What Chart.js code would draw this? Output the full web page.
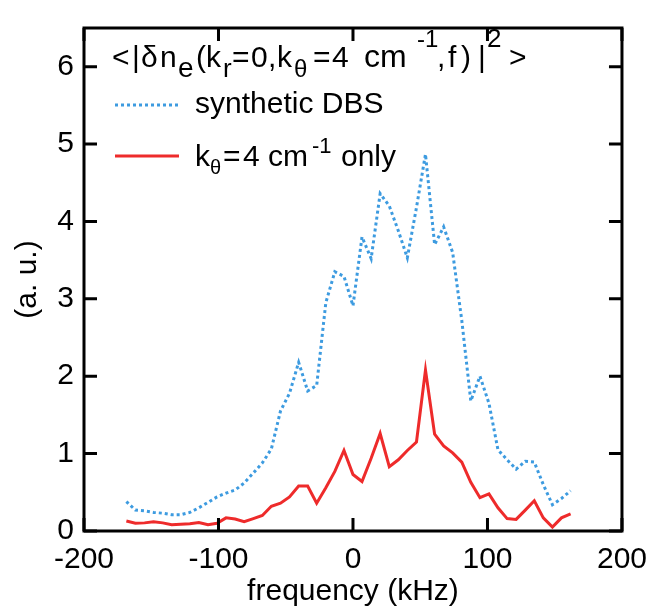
<!DOCTYPE html>
<html>
<head>
<meta charset="utf-8">
<script src="https://cdn.jsdelivr.net/npm/chart.js@4.4.1/dist/chart.umd.min.js"></script>
<style>
  html, body { margin: 0; padding: 0; background: #fff; }
  #wrap { width: 658px; height: 611px; }
</style>
</head>
<body>
<div id="wrap"><canvas id="spec" width="658" height="611"></canvas></div>
<script>
// frequency grid (kHz)
var freq = [-168.5, -161.8, -155.0, -148.3, -141.5, -134.8, -128.1, -121.3, -114.6, -107.8,
  -101.1, -94.4, -87.6, -80.9, -74.1, -67.4, -60.7, -53.9, -47.2, -40.4,
  -33.7, -27.0, -20.2, -13.5, -6.7, 0, 6.7, 13.5, 20.2, 27.0,
  33.7, 40.4, 47.2, 53.9, 60.7, 67.4, 74.1, 80.9, 87.6, 94.4,
  101.1, 107.8, 114.6, 121.3, 128.1, 134.8, 141.5, 148.3, 155.0, 161.8];

// synthetic DBS spectrum (a. u.)
var synthDBS = [0.38, 0.27, 0.26, 0.24, 0.23, 0.21, 0.21, 0.24, 0.30, 0.37,
  0.44, 0.49, 0.53, 0.62, 0.75, 0.88, 1.06, 1.55, 1.78, 2.18,
  1.81, 1.88, 2.95, 3.35, 3.29, 2.91, 3.80, 3.52, 4.36, 4.20,
  3.88, 3.53, 4.18, 4.87, 3.70, 3.93, 3.60, 2.72, 1.68, 2.00,
  1.65, 1.05, 0.92, 0.80, 0.90, 0.89, 0.60, 0.34, 0.42, 0.52];

// k_theta = 4 cm^-1 only
var kthetaOnly = [0.13, 0.10, 0.105, 0.12, 0.105, 0.08, 0.087, 0.095, 0.11, 0.08,
  0.10, 0.17, 0.155, 0.12, 0.16, 0.20, 0.32, 0.36, 0.44, 0.58,
  0.58, 0.36, 0.56, 0.77, 1.04, 0.73, 0.64, 0.94, 1.26, 0.83,
  0.92, 1.04, 1.15, 2.08, 1.25, 1.10, 1.01, 0.89, 0.63, 0.43,
  0.48, 0.30, 0.16, 0.15, 0.27, 0.39, 0.17, 0.05, 0.17, 0.22];

var xTicks = [-200, -100, 0, 100, 200];
var yTicks = [0, 1, 2, 3, 4, 5, 6];

var BLUE = '#3d9be0';
var RED = '#ee2b2b';
var FONT = '"Liberation Sans", Arial, sans-serif';

function pts(ys) {
  return freq.map(function (f, i) { return { x: f, y: ys[i] }; });
}

// box around the plot with inward ticks on all four sides
var frameBox = {
  id: 'frameBox',
  afterDatasetsDraw: function (chart) {
    var ctx = chart.ctx, a = chart.chartArea;
    var xs = chart.scales.x, ys = chart.scales.y;
    var tl = 13;
    ctx.save();
    ctx.strokeStyle = '#000';
    ctx.lineWidth = 3;
    ctx.strokeRect(a.left, a.top, a.right - a.left, a.bottom - a.top);
    ctx.beginPath();
    yTicks.forEach(function (v) {
      var py = ys.getPixelForValue(v);
      ctx.moveTo(a.left, py); ctx.lineTo(a.left + tl, py);
      ctx.moveTo(a.right, py); ctx.lineTo(a.right - tl, py);
    });
    xTicks.forEach(function (v) {
      var px = xs.getPixelForValue(v);
      ctx.moveTo(px, a.bottom); ctx.lineTo(px, a.bottom - tl);
      ctx.moveTo(px, a.top); ctx.lineTo(px, a.top + tl);
    });
    ctx.stroke();
    ctx.restore();
  }
};

// each piece: text, x, baseline shift, font size
function pieces(ctx, y, list) {
  list.forEach(function (p) {
    ctx.font = (p[3] || 30) + 'px ' + FONT;
    ctx.fillText(p[0], p[1], y + (p[2] || 0));
  });
}

var legendBox = {
  id: 'legendBox',
  afterDraw: function (chart) {
    var ctx = chart.ctx;
    ctx.save();
    ctx.fillStyle = '#000';
    ctx.textBaseline = 'alphabetic';
    ctx.textAlign = 'left';
    pieces(ctx, 67, [
      ['<', 112], ['|', 132], ['\u03b4', 141], ['n', 160],
      ['e', 178, 10, 28],
      ['(', 196], ['k', 206], ['r', 223, 10, 26],
      ['=', 232], ['0', 251], [',', 268], ['k', 277], ['\u03b8', 294, 10, 24],
      ['=', 313], ['4', 332], ['cm', 364, 0, 32], ['-1', 417, -20, 24],
      [',', 437], ['f', 448], [')', 461], ['|', 478], ['2', 487, -20, 26],
      ['>', 509]
    ]);

    ctx.lineWidth = 3;
    ctx.lineCap = 'butt';
    ctx.strokeStyle = BLUE;
    ctx.setLineDash([3, 3]);
    ctx.beginPath(); ctx.moveTo(115, 105); ctx.lineTo(179, 105); ctx.stroke();
    ctx.setLineDash([]);
    ctx.strokeStyle = RED;
    ctx.beginPath(); ctx.moveTo(115, 156); ctx.lineTo(179, 156); ctx.stroke();

    pieces(ctx, 113, [['synthetic DBS', 195]]);
    pieces(ctx, 166, [
      ['k', 195], ['\u03b8', 210, 8, 20],
      ['=', 223], ['4', 243], ['cm', 268], ['-1', 312, -13, 22],
      ['only', 341]
    ]);
    ctx.restore();
  }
};

new Chart(document.getElementById('spec'), {
  type: 'line',
  data: {
    datasets: [
      {
        label: 'synthetic DBS',
        data: pts(synthDBS),
        borderColor: BLUE,
        borderWidth: 3,
        borderDash: [3, 3],
        borderCapStyle: 'butt',
        pointRadius: 0,
        tension: 0,
        fill: false
      },
      {
        label: 'k\u03b8=4 cm-1 only',
        data: pts(kthetaOnly),
        borderColor: RED,
        borderWidth: 3,
        pointRadius: 0,
        tension: 0,
        fill: false
      }
    ]
  },
  options: {
    responsive: false,
    animation: false,
    layout: { padding: { left: 0, right: 30, top: 11, bottom: 0 } },
    plugins: { legend: { display: false }, tooltip: { enabled: false } },
    scales: {
      x: {
        type: 'linear',
        min: -200, max: 200,
        grid: { display: false, drawTicks: false },
        border: { display: false },
        ticks: { stepSize: 100, color: '#000', padding: 11, font: { family: FONT, size: 30 } },
        title: { display: true, text: 'frequency (kHz)', color: '#000', padding: { top: 0, bottom: 1 }, font: { family: FONT, size: 30, lineHeight: 1.2 } },
        afterFit: function (s) { s.height = 80; }
      },
      y: {
        min: 0, max: 6.5,
        grid: { display: false, drawTicks: false },
        border: { display: false },
        ticks: { stepSize: 1, includeBounds: false, color: '#000', padding: 10, font: { family: FONT, size: 30 } },
        title: { display: true, text: '(a. u.)', color: '#000', padding: { top: 10, bottom: 0 }, font: { family: FONT, size: 30, lineHeight: 1.2 } },
        afterFit: function (s) { s.width = 84; }
      }
    }
  },
  plugins: [frameBox, legendBox]
});
</script>
</body>
</html>
